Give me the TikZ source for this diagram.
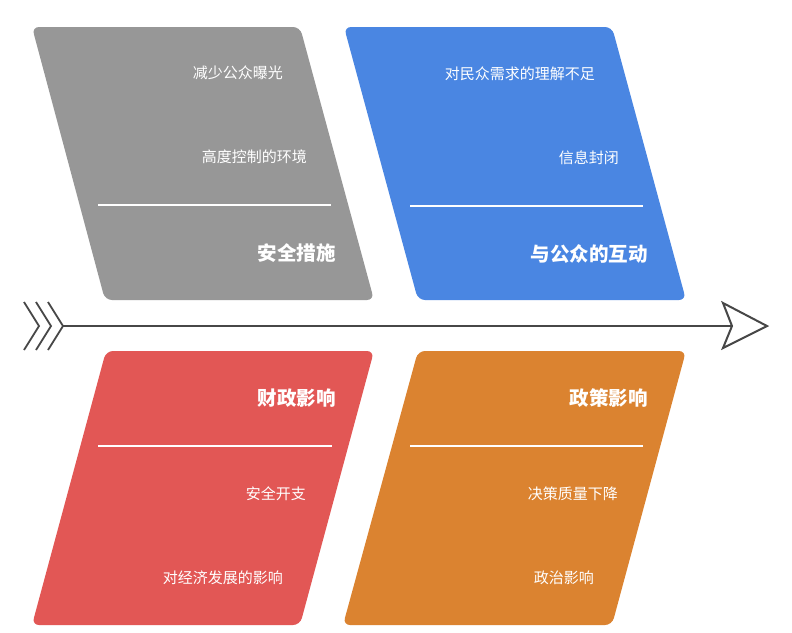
\documentclass[tikz,border=0pt]{standalone}
\usepackage{fontspec}
\setmainfont{Noto Sans CJK SC}
\begin{document}
\begin{tikzpicture}[x=1pt,y=-1pt,
  panel/.style={rounded corners=7pt},
  sub/.style={anchor=east, inner sep=0pt, text=white, font=\fontsize{15}{17}\selectfont},
  ttl/.style={anchor=east, inner sep=0pt, text=white, font=\fontsize{19.5}{22}\selectfont\bfseries},
  sepline/.style={draw=white, line width=1.5pt},
  spine/.style={draw=black!72, line width=2pt},
  chev/.style={draw=black!72, line width=1.8pt}]
\definecolor{cgray}{RGB}{151,151,151}
\definecolor{cblue}{RGB}{74,134,226}
\definecolor{cred}{RGB}{226,87,85}
\definecolor{corange}{RGB}{219,131,48}
\useasboundingbox[fill=white] (0,0) rectangle (792,632);

% panels
\fill[cgray,panel] (32,27) -- (300,27) -- (374,300) -- (105,300) -- cycle;
\fill[cblue,panel] (344,27) -- (612,27) -- (686,300) -- (418,300) -- cycle;
\fill[cred,panel] (106,351) -- (374,351) -- (300,625) -- (32,625) -- cycle;
\fill[corange,panel] (418,351) -- (686,351) -- (612,625) -- (343,625) -- cycle;

% gray panel texts
\node[sub] (g1) at (283,73) {减少公众曝光};
\node[sub] (g2) at (307,157) {高度控制的环境};
\coordinate (gl1) at (98,205); \coordinate (gl2) at (331,205);
\draw[sepline] (gl1) -- (gl2);
\node[ttl] (gt) at (336,253) {安全措施};

% blue panel texts
\node[sub] (b1) at (595,74) {对民众需求的理解不足};
\node[sub] (b2) at (619,158) {信息封闭};
\coordinate (bl1) at (410,206); \coordinate (bl2) at (643,206);
\draw[sepline] (bl1) -- (bl2);
\node[ttl] (bt) at (648,254) {与公众的互动};

% red panel texts
\node[ttl] (rt) at (336,398) {财政影响};
\coordinate (rl1) at (98,446); \coordinate (rl2) at (332,446);
\draw[sepline] (rl1) -- (rl2);
\node[sub] (r1) at (306,494) {安全开支};
\node[sub] (r2) at (283,578) {对经济发展的影响};

% orange panel texts
\node[ttl] (ot) at (648,398) {政策影响};
\coordinate (ol1) at (410,446); \coordinate (ol2) at (643,446);
\draw[sepline] (ol1) -- (ol2);
\node[sub] (o1) at (618,494) {决策质量下降};
\node[sub] (o2) at (594,578) {政治影响};

% spine
\coordinate (tail) at (63,326);
\coordinate (notch) at (732,326);
\draw[spine] (tail) -- (notch);
\draw[chev] (24,302) -- (39,326) -- (24,350);
\draw[chev] (36,302) -- (51,326) -- (36,350);
\draw[chev] (48,302) -- (63,326) -- (48,350);
\draw[spine, fill=white, line join=miter] (723,303) -- (767,326) -- (723,348) -- (notch) -- cycle;
\end{tikzpicture}
\end{document}
